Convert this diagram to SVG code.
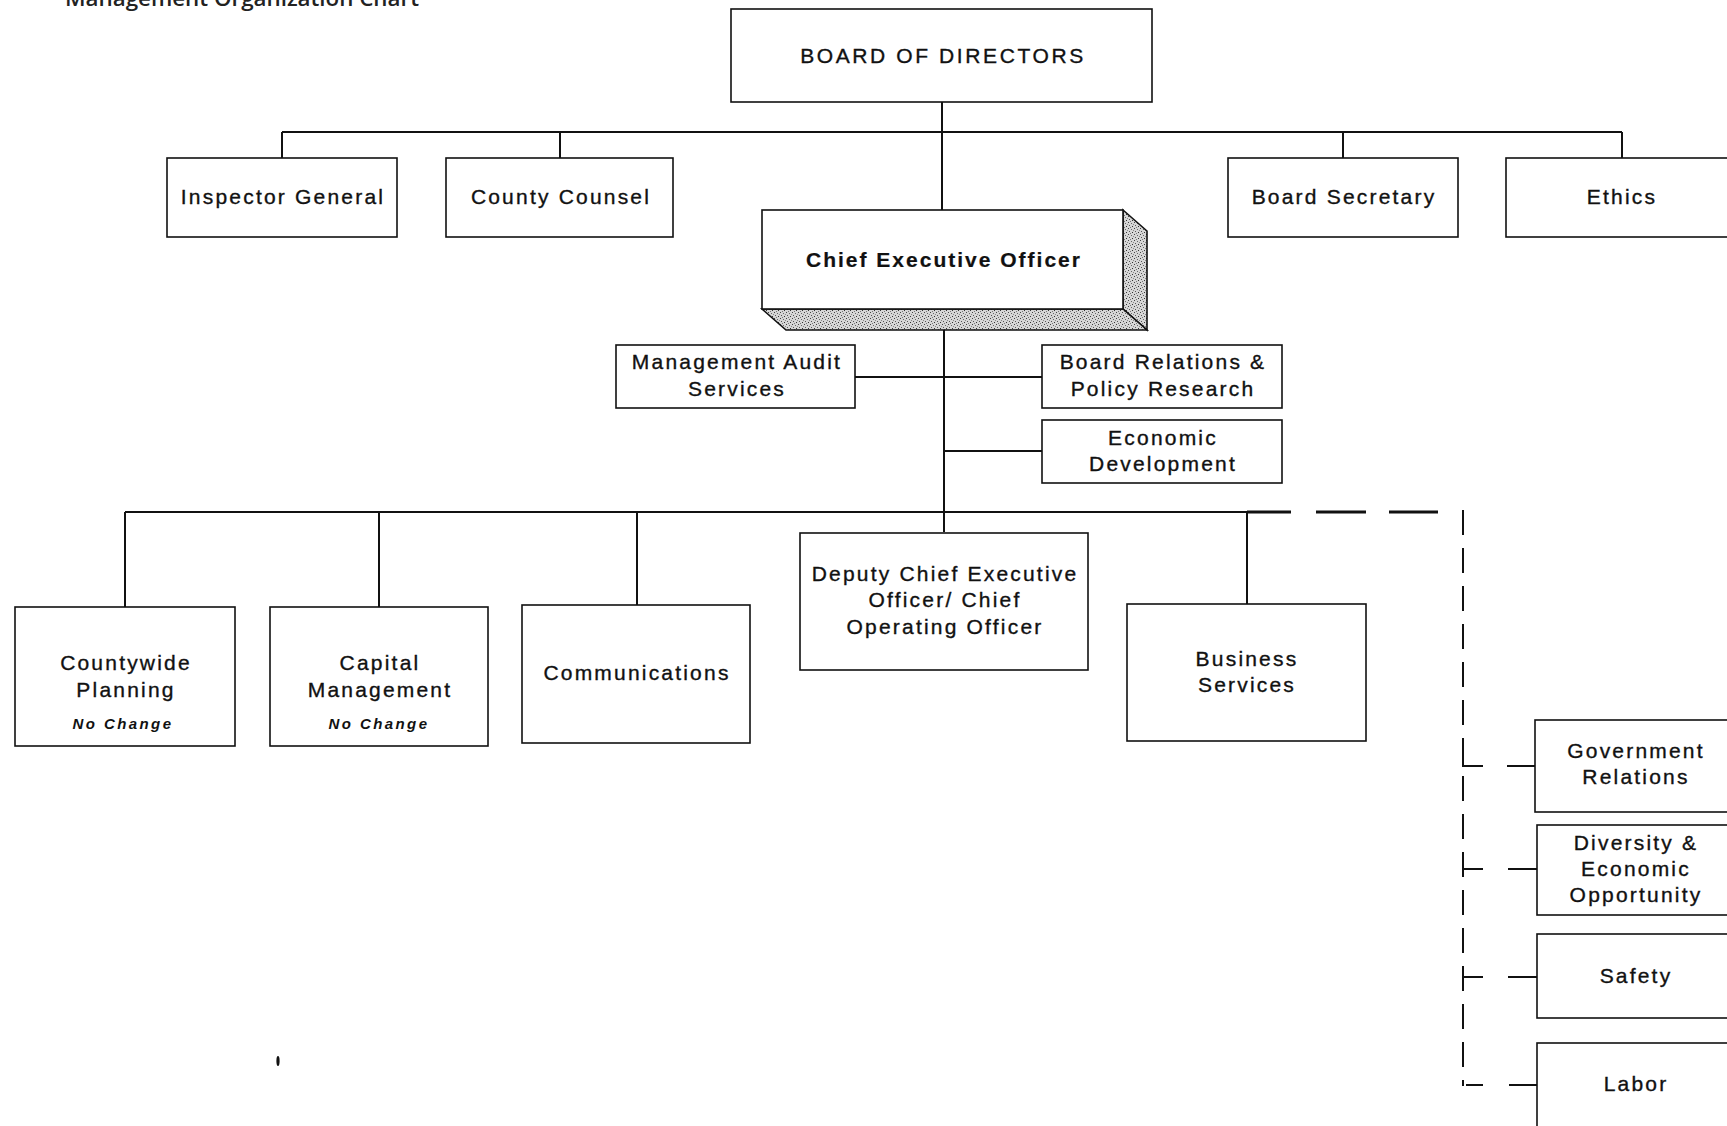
<svg xmlns="http://www.w3.org/2000/svg" width="1727" height="1126" viewBox="0 0 1727 1126">
<style>
.box{fill:#fff;stroke:#111;stroke-width:1.6}
.ln{stroke:#111;stroke-width:2;fill:none}
.t{font-family:"Liberation Sans",Arial,sans-serif;font-size:21px;letter-spacing:2.2px;text-anchor:middle;fill:#111;stroke:#111;stroke-width:0.35}
.b{font-weight:bold;letter-spacing:2px;stroke-width:0.2}
.nc{font-family:"Liberation Sans",Arial,sans-serif;font-size:15px;font-style:italic;font-weight:bold;letter-spacing:2.4px;text-anchor:middle;fill:#111}
.dv{stroke:#111;stroke-width:2;fill:none;stroke-dasharray:25 13}
</style>
<defs>
<pattern id="stip" width="6" height="6" patternUnits="userSpaceOnUse">
<rect width="6" height="6" fill="#d6d6d6"/>
<rect x="0" y="0" width="1" height="1" fill="#444"/>
<rect x="3" y="1" width="1" height="1" fill="#666"/>
<rect x="1" y="3" width="1" height="1" fill="#555"/>
<rect x="4" y="4" width="1" height="1" fill="#333"/>
<rect x="5" y="2" width="1" height="1" fill="#888"/>
<rect x="2" y="5" width="1" height="1" fill="#777"/>
</pattern>
</defs>
<rect width="1727" height="1126" fill="#fff"/>
<text x="65" y="6" font-family="'Open Sans',sans-serif" font-size="22" font-weight="600" fill="#222" textLength="354" lengthAdjust="spacingAndGlyphs">Management Organization Chart</text>

<g id="connectors">
<line class="ln" x1="942" y1="102" x2="942" y2="210"/>
<line class="ln" x1="282" y1="132" x2="1622" y2="132"/>
<line class="ln" x1="282" y1="132" x2="282" y2="158"/>
<line class="ln" x1="560" y1="132" x2="560" y2="158"/>
<line class="ln" x1="1343" y1="132" x2="1343" y2="158"/>
<line class="ln" x1="1622" y1="132" x2="1622" y2="158"/>
<line class="ln" x1="944" y1="309" x2="944" y2="532"/>
<line class="ln" x1="855" y1="377" x2="1042" y2="377"/>
<line class="ln" x1="944" y1="451" x2="1042" y2="451"/>
<line class="ln" x1="125" y1="512" x2="1247" y2="512"/>
<line class="ln" x1="125" y1="512" x2="125" y2="607"/>
<line class="ln" x1="379" y1="512" x2="379" y2="607"/>
<line class="ln" x1="637" y1="512" x2="637" y2="605"/>
<line class="ln" x1="1247" y1="512" x2="1247" y2="604"/>
<line stroke="#111" stroke-width="3" x1="1247" y1="512" x2="1291" y2="512"/>
<line stroke="#111" stroke-width="3" x1="1316" y1="512" x2="1366" y2="512"/>
<line stroke="#111" stroke-width="3" x1="1389" y1="512" x2="1438" y2="512"/>
<line class="dv" x1="1463" y1="510" x2="1463" y2="1086"/>
<polyline class="ln" points="1463,760 1463,766 1483,766"/>
<line class="ln" x1="1507" y1="766" x2="1535" y2="766"/>
<line class="ln" x1="1463" y1="869" x2="1483" y2="869"/>
<line class="ln" x1="1508" y1="869" x2="1537" y2="869"/>
<line class="ln" x1="1463" y1="977" x2="1483" y2="977"/>
<line class="ln" x1="1508" y1="977" x2="1537" y2="977"/>
<line class="ln" x1="1466" y1="1085" x2="1483" y2="1085"/>
<line class="ln" x1="1509" y1="1085" x2="1537" y2="1085"/>
</g>

<g id="board"><rect class="box" x="731" y="9" width="421" height="93"/><text class="t" x="943" y="63" style="letter-spacing:2.6px">BOARD OF DIRECTORS</text></g>
<g id="inspector-general"><rect class="box" x="167" y="158" width="230" height="79"/><text class="t" x="283" y="204">Inspector General</text></g>
<g id="county-counsel"><rect class="box" x="446" y="158" width="227" height="79"/><text class="t" x="561" y="204">County Counsel</text></g>
<g id="board-secretary"><rect class="box" x="1228" y="158" width="230" height="79"/><text class="t" x="1344" y="204">Board Secretary</text></g>
<g id="ethics"><rect class="box" x="1506" y="158" width="240" height="79"/><text class="t" x="1622" y="204">Ethics</text></g>

<g id="ceo">
<polygon points="1123,210 1147,231 1147,330 1123,309" fill="url(#stip)" stroke="#111" stroke-width="1.6"/>
<polygon points="762,309 1123,309 1147,330 786,330" fill="url(#stip)" stroke="#111" stroke-width="1.6"/>
<rect class="box" x="762" y="210" width="361" height="99"/>
<text class="t b" x="944" y="267">Chief Executive Officer</text>
</g>

<g id="management-audit"><rect class="box" x="616" y="345" width="239" height="63"/><text class="t" x="737" y="369">Management Audit</text><text class="t" x="737" y="396">Services</text></g>
<g id="board-relations"><rect class="box" x="1042" y="345" width="240" height="63"/><text class="t" x="1163" y="369">Board Relations &amp;</text><text class="t" x="1163" y="396">Policy Research</text></g>
<g id="economic-development"><rect class="box" x="1042" y="420" width="240" height="63"/><text class="t" x="1163" y="445">Economic</text><text class="t" x="1163" y="471">Development</text></g>

<g id="countywide-planning"><rect class="box" x="15" y="607" width="220" height="139"/><text class="t" x="126" y="670">Countywide</text><text class="t" x="126" y="697">Planning</text><text class="nc" x="123" y="729">No Change</text></g>
<g id="capital-management"><rect class="box" x="270" y="607" width="218" height="139"/><text class="t" x="380" y="670">Capital</text><text class="t" x="380" y="697">Management</text><text class="nc" x="379" y="729">No Change</text></g>
<g id="communications"><rect class="box" x="522" y="605" width="228" height="138"/><text class="t" x="637" y="680">Communications</text></g>
<g id="deputy-ceo"><rect class="box" x="800" y="533" width="288" height="137"/><text class="t" x="945" y="581">Deputy Chief Executive</text><text class="t" x="945" y="607">Officer/ Chief</text><text class="t" x="945" y="634">Operating Officer</text></g>
<g id="business-services"><rect class="box" x="1127" y="604" width="239" height="137"/><text class="t" x="1247" y="666">Business</text><text class="t" x="1247" y="692">Services</text></g>

<g id="government-relations"><rect class="box" x="1535" y="720" width="210" height="92"/><text class="t" x="1636" y="758">Government</text><text class="t" x="1636" y="784">Relations</text></g>
<g id="diversity"><rect class="box" x="1537" y="825" width="210" height="90"/><text class="t" x="1636" y="850">Diversity &amp;</text><text class="t" x="1636" y="876">Economic</text><text class="t" x="1636" y="902">Opportunity</text></g>
<g id="safety"><rect class="box" x="1537" y="934" width="210" height="84"/><text class="t" x="1636" y="983">Safety</text></g>
<g id="labor"><rect class="box" x="1537" y="1043" width="210" height="100"/><text class="t" x="1636" y="1091">Labor</text></g>

<ellipse cx="278" cy="1061" rx="1.6" ry="5" fill="#111"/>
</svg>
